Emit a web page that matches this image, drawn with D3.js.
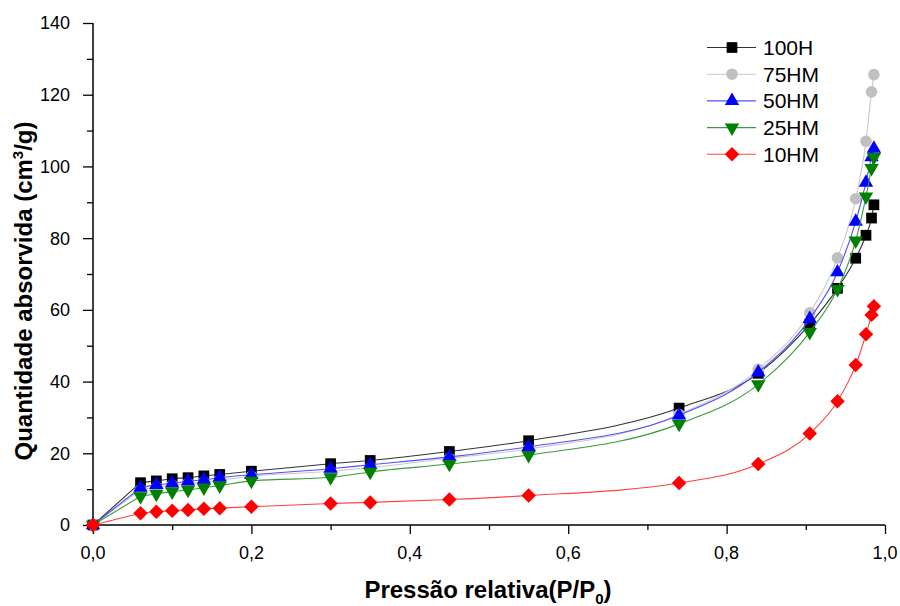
<!DOCTYPE html>
<html>
<head>
<meta charset="utf-8">
<script src="https://cdn.jsdelivr.net/npm/d3@7"></script>
<style>
  body { margin: 0; background: #fff; }
  svg { display: block; font-family: "Liberation Sans", Arial, sans-serif; }
</style>
</head>
<body>
<script>
  // Data
  const pressure = [0, 0.06, 0.08, 0.10, 0.12, 0.14, 0.16, 0.20, 0.30, 0.35, 0.45, 0.55, 0.74, 0.84, 0.905, 0.94, 0.963, 0.976, 0.983, 0.986];
  const h100  = [0, 11.8, 12.3, 12.9, 13.2, 13.7, 14.1, 15.0, 17.1, 18.0, 20.5, 23.5, 32.6, 42.3, 56.0, 66.0, 74.4, 80.8, 85.6, 89.3];
  const hm75  = [0, 9.8, 10.6, 11.1, 11.6, 12.0, 12.5, 13.6, 15.0, 16.0, 18.6, 21.2, 30.8, 43.4, 59.2, 74.5, 91.0, 107.0, 120.8, 125.6];
  const hm50  = [0, 10.4, 11.2, 11.6, 12.2, 12.6, 13.2, 14.0, 15.7, 16.8, 19.0, 21.8, 30.6, 42.6, 57.5, 70.5, 84.6, 95.5, 102.6, 105.0];
  const hm25  = [0, 8.0, 8.7, 9.3, 9.8, 10.4, 11.0, 12.3, 13.3, 14.8, 17.0, 19.5, 28.2, 39.2, 53.8, 65.8, 79.3, 91.6, 99.5, 102.6];
  const hm10  = [0, 3.3, 3.7, 4.0, 4.2, 4.5, 4.7, 5.1, 6.0, 6.3, 7.1, 8.2, 11.7, 17.0, 25.5, 34.5, 44.6, 53.2, 58.6, 61.0];
  const seriesNames = ['100H', '75HM', '50HM', '25HM', '10HM'];
  const xTicks = [0, 0.2, 0.4, 0.6, 0.8, 1.0];
  const yTicks = [0, 20, 40, 60, 80, 100, 120, 140];

  const series = [
    {name: seriesNames[0], values: h100, mark: '#000000', line: '#333333', shape: 'square'},
    {name: seriesNames[1], values: hm75, mark: '#c0c0c0', line: '#c8c8c8', shape: 'circle'},
    {name: seriesNames[2], values: hm50, mark: '#0000ff', line: '#5050ff', shape: 'up'},
    {name: seriesNames[3], values: hm25, mark: '#008000', line: '#3c9a3c', shape: 'down'},
    {name: seriesNames[4], values: hm10, mark: '#ff0000', line: '#ff4040', shape: 'diamond'}
  ];

  const W = 900, H = 606;
  const margin = {top: 23, left: 93, right: 15, bottom: 81};

  const svg = d3.select('body').append('svg')
    .attr('width', W).attr('height', H);

  const x = d3.scaleLinear().domain([0, 1]).range([margin.left, 885]);
  const y = d3.scaleLinear().domain([0, 140]).range([525, margin.top]);

  // axes
  const xAxis = svg.append('g').attr('transform', `translate(0,${y(0)})`);
  xAxis.call(d3.axisBottom(x).tickValues(d3.range(0, 1.01, 0.1)).tickSize(5).tickFormat(''));
  xAxis.call(g => g.selectAll('.tick').filter(d => xTicks.some(t => Math.abs(t - d) < 1e-6))
    .select('line').attr('y2', 9));
  xAxis.select('.domain').remove();
  xAxis.append('line').attr('x1', x(0)).attr('x2', x(1)).attr('stroke', '#000').attr('stroke-width', 1.5);
  xAxis.selectAll('.tick line').attr('stroke-width', 1.3);
  xAxis.selectAll('.xlab').data(xTicks).enter().append('text')
    .attr('x', d => x(d)).attr('y', 34)
    .attr('text-anchor', 'middle').attr('font-size', 18).attr('fill', '#000')
    .text(d => d3.format('.1f')(d).replace('.', ','));

  const yAxis = svg.append('g').attr('transform', `translate(${x(0)},0)`);
  yAxis.call(d3.axisLeft(y).tickValues(d3.range(0, 141, 10)).tickSize(6).tickFormat(''));
  yAxis.call(g => g.selectAll('.tick').filter(d => d % 20 === 0).select('line').attr('x2', -10));
  yAxis.select('.domain').remove();
  yAxis.append('line').attr('y1', y(0)).attr('y2', y(140)).attr('stroke', '#000').attr('stroke-width', 1.5);
  yAxis.selectAll('.tick line').attr('stroke-width', 1.3);
  yAxis.selectAll('.ylab').data(yTicks).enter().append('text')
    .attr('x', -23).attr('y', d => y(d)).attr('dy', '0.36em')
    .attr('text-anchor', 'end').attr('font-size', 18).attr('fill', '#000')
    .text(d => d);

  // axis titles
  const xt = svg.append('text').attr('x', 488).attr('y', 598)
    .attr('text-anchor', 'middle').attr('font-size', 24).attr('font-weight', 'bold');
  xt.append('tspan').text('Pressão relativa(P/P');
  xt.append('tspan').attr('font-size', 15).attr('dy', 6).text('0');
  xt.append('tspan').attr('dy', -6).text(')');

  const yt = svg.append('text').attr('transform', 'translate(32,291) rotate(-90)')
    .attr('text-anchor', 'middle').attr('font-size', 24).attr('font-weight', 'bold');
  yt.append('tspan').text('Quantidade absorvida (cm');
  yt.append('tspan').attr('font-size', 15).attr('dy', -9).text('3');
  yt.append('tspan').attr('dy', 9).text('/g)');

  // markers
  function symbolPath(shape) {
    if (shape === 'square') return d3.symbol(d3.symbolSquare, 115)();
    if (shape === 'circle') return d3.symbol(d3.symbolCircle, 105)();
    if (shape === 'up' || shape === 'down') return d3.symbol(d3.symbolTriangle, 90)();
    return d3.symbol(d3.symbolSquare, 105)();
  }
  function symbolRot(shape) {
    if (shape === 'down') return ' rotate(180)';
    if (shape === 'diamond') return ' rotate(45)';
    return '';
  }

  const line = d3.line().curve(d3.curveMonotoneX)
    .x(d => x(d[0])).y(d => y(d[1]));
  const straight = d3.line().x(d => x(d[0])).y(d => y(d[1]));

  series.forEach(s => {
    const pts = s.values.map((v, i) => [pressure[i], v]);
    const g = svg.append('g');
    // first step from the origin is straight, the rest is a smooth curve
    g.append('path').datum(pts.slice(0, 2))
      .attr('d', straight).attr('fill', 'none')
      .attr('stroke', s.line).attr('stroke-width', 1.1);
    g.append('path').datum(pts.slice(1))
      .attr('d', line).attr('fill', 'none')
      .attr('stroke', s.line).attr('stroke-width', 1.1);
    g.selectAll('path.m').data(pts).enter().append('path')
      .attr('class', 'm')
      .attr('d', symbolPath(s.shape))
      .attr('transform', d => `translate(${x(d[0])},${y(d[1])})${symbolRot(s.shape)}`)
      .attr('fill', s.mark);
  });

  // legend
  const legend = svg.append('g');
  series.forEach((s, i) => {
    const ly = 47.5 + i * 26.7;
    legend.append('line').attr('x1', 707).attr('x2', 756).attr('y1', ly).attr('y2', ly)
      .attr('stroke', s.line).attr('stroke-width', 1.1);
    legend.append('path').attr('d', symbolPath(s.shape))
      .attr('transform', `translate(732,${ly})${symbolRot(s.shape)}`)
      .attr('fill', s.mark);
    legend.append('text').attr('x', 763).attr('y', ly).attr('dy', '0.36em')
      .attr('font-size', 21).text(s.name);
  });
</script>
</body>
</html>
